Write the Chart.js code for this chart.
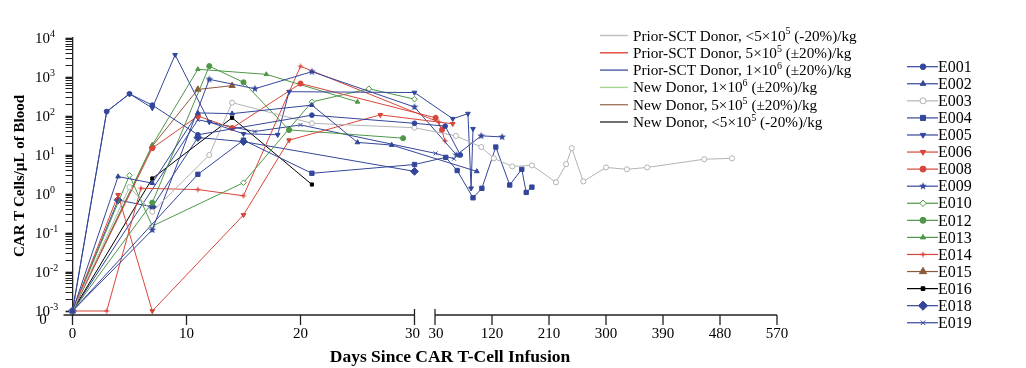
<!DOCTYPE html>
<html>
<head>
<meta charset="utf-8">
<script src="https://cdn.jsdelivr.net/npm/chart.js@4.4.1/dist/chart.umd.min.js"></script>
<style>
html, body { margin: 0; padding: 0; background: #fff; }
#wrap { width: 1026px; height: 368px; }
</style>
</head>
<body>
<div id="wrap"><canvas id="chart" width="1026" height="368"></canvas></div>
<script>
// [day, CAR T cells/uL] ; 0 means none detected (plotted on the floor line)
const E001 = [[0, 0], [3, 130], [5, 370], [7, 190], [11, 33], [21, 105], [30, 65], [46, 55], [70, 10]];
const E002 = [[0, 0], [4, 2.8], [7, 1.9], [11, 120], [14, 115], [21, 190], [25, 21], [28, 18], [96, 3.8]];
const E003 = [[0, 0], [5, 1.5], [7, 0.35], [12, 10], [14, 220], [21, 65], [30, 50], [63, 31], [103, 16], [123, 8.2],
    [152, 5.1], [183, 5.4], [221, 2.0], [237, 5.8], [246, 15], [264, 2.1], [300, 4.8], [333, 4.3], [365, 4.8], [455, 7.8], [499, 8.2]];
const E004 = [[0, 0], [11, 3.2], [15, 24], [21, 3.4], [30, 5.7], [47, 8.7], [65, 4], [90, 0.8], [104, 1.4], [126, 16],
    [148, 1.7], [167, 4.3], [174, 1.1], [183, 1.5]];
const E005 = [[0, 0], [3, 130], [5, 370], [7, 160], [9, 3700], [12, 70], [15, 35], [18, 33], [19, 420], [30, 400],
    [58, 85], [82, 115], [87, 1.4], [90, 47]];
const E006 = [[0, 0], [4, 0.95], [7, 0], [15, 0.29], [19, 24], [27, 107], [58, 63]];
const E008 = [[0, 0], [7, 15], [11, 100], [14, 49], [20, 680], [31, 90], [41, 44]];
const E009 = [[0, 0], [7, 0.12], [12, 870], [16, 500], [21, 1370], [30, 170], [64, 10], [103, 31], [136, 29]];
const E010 = [[0, 0], [5, 3.0], [7, 0.15], [15, 1.95], [21, 230], [26, 500], [30, 270]];
const E012 = [[0, 0], [7, 0.6], [12, 1900], [15, 730], [19, 44], [29, 27]];
const E013 = [[0, 0], [7, 18], [11, 1580], [17, 1170], [25, 230]];
const E014 = [[0, 0], [3, 0], [6, 1.4], [11, 1.3], [15, 0.9], [20, 1880], [36, 70], [46, 23]];
const E015 = [[0, 0], [7, 17], [11, 480], [14, 600]];
const E016 = [[0, 0], [7, 2.5], [14, 90], [21, 1.75]];
const E018 = [[0, 0], [4, 0.7], [7, 0.47], [11, 28], [15, 22], [30, 3.8]];
const E019 = [[0, 0], [11, 80], [16, 40], [20, 59], [31, 11], [60, 8]];

const earlyTicks = [0, 10, 20, 30];
const lateTicks = [30, 120, 210, 300, 390, 480, 570];
const yDecades = [-3, -2, -1, 0, 1, 2, 3, 4];

const groupLabels = [
    [['Prior-SCT Donor, <5×10'], ['5', true], [' (-20%)/kg']],
    [['Prior-SCT Donor, 5×10'], ['5', true], [' (±20%)/kg']],
    [['Prior-SCT Donor, 1×10'], ['6', true], [' (±20%)/kg']],
    [['New Donor, 1×10'], ['6', true], [' (±20%)/kg']],
    [['New Donor, 5×10'], ['5', true], [' (±20%)/kg']],
    [['New Donor, <5×10'], ['5', true], [' (-20%)/kg']]
];
const groupColors = ['#bdbdbd', '#e0473b', '#4a5aa6', '#a6d68e', '#a07a62', '#333333'];

const BLUE = '#33469a', RED = '#d8463a', GREEN = '#4f9748', GRAY = '#b3b3b3', BROWN = '#8a5a3a', BLACK = '#000000';
const SERIF = '"Liberation Serif", "Times New Roman", serif';

const ZERO_AT = 1e-3;
const Y_MIN = Math.pow(10, -3 - 4 / 39);
const BREAK_DAY = 30, BREAK_GAP = 1.8, LATE_SCALE = 1 / 18;
const earlyAxis = d => d;
const lateAxis = d => BREAK_DAY + BREAK_GAP + (d - BREAK_DAY) * LATE_SCALE;
const toAxis = d => d <= BREAK_DAY ? earlyAxis(d) : lateAxis(d);
const X_MAX = lateAxis(570);

function starImage(color, points, outer, inner) {
    const c = document.createElement('canvas');
    const s = Math.ceil(outer * 2 + 2);
    c.width = s; c.height = s;
    const g = c.getContext('2d');
    g.fillStyle = color;
    g.beginPath();
    for (let i = 0; i < points * 2; i++) {
        const r = i % 2 ? inner : outer;
        const a = -Math.PI / 2 + i * Math.PI / points;
        g.lineTo(s / 2 + r * Math.cos(a), s / 2 + r * Math.sin(a));
    }
    g.closePath();
    g.fill();
    return c;
}

const patients = [
    { id: 'E001', data: E001, color: BLUE, style: 'circle', r: 2.8 },
    { id: 'E002', data: E002, color: BLUE, style: 'triangle', r: 3.2 },
    { id: 'E003', data: E003, color: GRAY, style: 'circle', r: 3, open: true },
    { id: 'E004', data: E004, color: BLUE, style: 'rect', r: 3.6 },
    { id: 'E005', data: E005, color: BLUE, style: 'triangle', r: 3.2, rot: 180 },
    { id: 'E006', data: E006, color: RED, style: 'triangle', r: 3.2, rot: 180 },
    { id: 'E008', data: E008, color: RED, style: 'circle', r: 3 },
    { id: 'E009', data: E009, color: BLUE, style: starImage(BLUE, 5, 4, 1.7), r: 3 },
    { id: 'E010', data: E010, color: GREEN, style: 'rectRot', r: 3.3, open: true },
    { id: 'E012', data: E012, color: GREEN, style: 'circle', r: 3 },
    { id: 'E013', data: E013, color: GREEN, style: 'triangle', r: 3 },
    { id: 'E014', data: E014, color: RED, style: starImage(RED, 4, 3.6, 1.2), r: 3 },
    { id: 'E015', data: E015, color: BROWN, style: 'triangle', r: 4.2 },
    { id: 'E016', data: E016, color: BLACK, style: 'rect', r: 2.6 },
    { id: 'E018', data: E018, color: BLUE, style: 'rectRot', r: 4.6 },
    { id: 'E019', data: E019, color: BLUE, style: 'crossRot', r: 3.2 }
];

const datasets = patients.map(p => ({
    label: p.id,
    data: p.data.map(([d, v]) => ({ x: toAxis(d), y: v === 0 ? ZERO_AT : v })),
    borderColor: p.color,
    backgroundColor: p.color,
    pointBorderColor: p.color,
    pointBackgroundColor: p.open ? '#ffffff' : p.color,
    pointStyle: p.style,
    pointRadius: p.r * 0.85,
    pointRotation: p.rot || 0,
    pointBorderWidth: 1,
    borderWidth: 1,
    tension: 0,
    clip: false
}));

const yTickValues = [];
yDecades.forEach(e => {
    for (let m = 1; m <= (e === 4 ? 1 : 9); m++) yTickValues.push(m * Math.pow(10, e));
});

function drawRich(ctx, parts, x, y, size, align) {
    const base = size + 'px ' + SERIF;
    const small = Math.round(size * 0.66) + 'px ' + SERIF;
    let w = 0;
    parts.forEach(([t, sup]) => { ctx.font = sup ? small : base; w += ctx.measureText(t).width; });
    let cx = align === 'right' ? x - w : align === 'center' ? x - w / 2 : x;
    ctx.textAlign = 'left';
    ctx.textBaseline = 'alphabetic';
    parts.forEach(([t, sup]) => {
        ctx.font = sup ? small : base;
        ctx.fillText(t, cx, sup ? y - size * 0.4 : y);
        cx += ctx.measureText(t).width;
    });
}

const overlay = {
    id: 'overlay',
    afterDraw(chart) {
        const ctx = chart.ctx;
        const xs = chart.scales.x, ys = chart.scales.y;
        const axisY = chart.chartArea.bottom;
        ctx.save();
        ctx.strokeStyle = '#222';
        ctx.fillStyle = '#000';
        ctx.lineWidth = 1.3;

        // broken x axis
        const e0 = xs.getPixelForValue(earlyAxis(0)), e1 = xs.getPixelForValue(earlyAxis(30));
        const l0 = xs.getPixelForValue(lateAxis(30)), l1 = xs.getPixelForValue(lateAxis(570));
        ctx.beginPath();
        ctx.moveTo(e0 - 9, axisY); ctx.lineTo(e1, axisY);
        ctx.moveTo(l0, axisY); ctx.lineTo(l1, axisY);
        ctx.stroke();
        ctx.beginPath();
        earlyTicks.forEach(d => {
            const px = xs.getPixelForValue(earlyAxis(d));
            ctx.moveTo(px, d === 30 ? axisY - 6 : axisY);
            ctx.lineTo(px, axisY + 10);
        });
        lateTicks.forEach(d => {
            const px = xs.getPixelForValue(lateAxis(d));
            ctx.moveTo(px, d === 30 ? axisY - 6 : axisY);
            ctx.lineTo(px, axisY + 10);
        });
        ctx.stroke();

        ctx.font = '15px ' + SERIF;
        ctx.textAlign = 'center';
        ctx.textBaseline = 'middle';
        earlyTicks.forEach(d => ctx.fillText(String(d), xs.getPixelForValue(earlyAxis(d)) - (d === 30 ? 2 : 0), axisY + 19));
        lateTicks.forEach(d => ctx.fillText(String(d), xs.getPixelForValue(lateAxis(d)) + (d === 30 ? 1 : 0), axisY + 19));

        // y tick labels
        yDecades.forEach(e => {
            const py = ys.getPixelForValue(Math.pow(10, e));
            drawRich(ctx, [['10'], [String(e), true]], 35, py + 5, 15, 'left');
        });
        ctx.font = '15px ' + SERIF;
        ctx.textAlign = 'center';
        ctx.textBaseline = 'middle';
        ctx.fillText('0', 43, axisY + 5);

        // axis titles
        ctx.font = 'bold 17.5px ' + SERIF;
        ctx.fillText('Days Since CAR T-Cell Infusion', 450, 357);
        ctx.font = 'bold 15px ' + SERIF;
        ctx.save();
        ctx.translate(20, 176);
        ctx.rotate(-Math.PI / 2);
        ctx.fillText('CAR T Cells/µL of Blood', 0, 0);
        ctx.restore();

        // dose group legend
        groupLabels.forEach((parts, i) => {
            const ry = 35.5 + i * 17.3;
            ctx.strokeStyle = groupColors[i];
            ctx.lineWidth = 1.4;
            ctx.beginPath(); ctx.moveTo(600, ry); ctx.lineTo(628, ry); ctx.stroke();
            ctx.fillStyle = '#000';
            drawRich(ctx, parts, 633, ry + 5, 15.2, 'left');
        });

        // patient legend
        patients.forEach((p, i) => {
            const ry = 66.7 + i * 17.07;
            ctx.strokeStyle = p.color;
            ctx.lineWidth = 1.2;
            ctx.beginPath(); ctx.moveTo(907, ry); ctx.lineTo(938, ry); ctx.stroke();
            ctx.fillStyle = p.open ? '#fff' : p.color;
            ctx.lineWidth = 1;
            Chart.helpers.drawPoint(ctx, { pointStyle: p.style, radius: p.r, rotation: p.rot || 0, borderWidth: 1 }, 923, ry);
            ctx.fillStyle = '#000';
            ctx.font = '16px ' + SERIF;
            ctx.textAlign = 'left';
            ctx.textBaseline = 'middle';
            ctx.fillText(p.id, 938, ry + 1);
        });
        ctx.restore();
    }
};

new Chart(document.getElementById('chart'), {
    type: 'line',
    data: { datasets },
    options: {
        responsive: false,
        animation: false,
        devicePixelRatio: 1,
        layout: { padding: { top: 38, right: 249, left: 0, bottom: 0 } },
        plugins: { legend: { display: false }, tooltip: { enabled: false } },
        scales: {
            x: {
                type: 'linear', min: 0, max: X_MAX,
                grid: { display: false }, ticks: { display: false }, border: { display: false },
                afterFit: s => { s.height = 53; }
            },
            y: {
                type: 'logarithmic', min: Y_MIN, max: 1e4,
                afterBuildTicks: s => { s.ticks = yTickValues.map(v => ({ value: v })); },
                ticks: { display: false },
                grid: {
                    drawOnChartArea: false, drawTicks: true, tickLength: 7, tickColor: '#222',
                    tickWidth: c => (Math.abs(Math.log10(c.tick.value) % 1) < 1e-6 ? 1.6 : 1)
                },
                border: { display: true, color: '#222', width: 1.3 },
                afterFit: s => { s.width = 72.5; }
            }
        }
    },
    plugins: [overlay]
});
</script>
</body>
</html>
